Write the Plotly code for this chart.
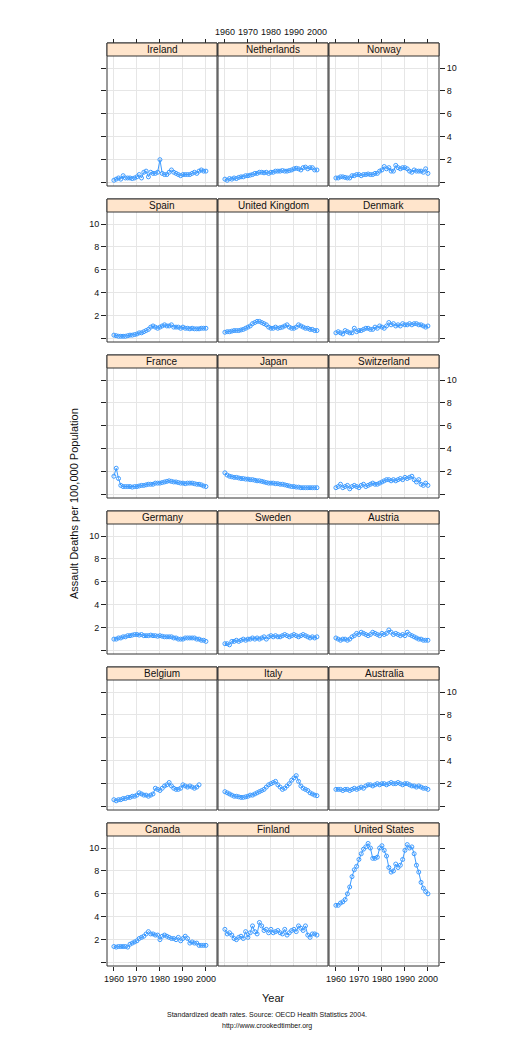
import plotly.graph_objects as go

years = list(range(1960, 2001))
countries = ["Ireland","Netherlands","Norway","Spain","United Kingdom","Denmark",
             "France","Japan","Switzerland","Germany","Sweden","Austria",
             "Belgium","Italy","Australia","Canada","Finland","United States"]
ireland = [0.2,0.3,0.4,0.3,0.6,0.4,0.4,0.4,0.35,0.4,0.5,0.7,0.4,0.9,1.0,0.5,0.9,0.8,0.8,0.9,2.0,0.8,0.7,0.7,0.9,1.1,0.9,0.8,0.7,0.6,0.7,0.7,0.7,0.7,0.8,0.9,0.8,1.0,1.1,1.0,1.0]
netherlands = [0.3,0.2,0.35,0.3,0.4,0.35,0.45,0.5,0.5,0.6,0.6,0.65,0.7,0.8,0.8,0.9,0.9,0.85,0.9,0.8,0.9,0.9,1.0,1.0,1.0,1.05,1.0,1.0,1.05,1.1,1.2,1.25,1.2,1.1,1.3,1.35,1.2,1.3,1.3,1.1,1.1]
norway = [0.4,0.4,0.5,0.5,0.45,0.4,0.4,0.6,0.6,0.7,0.7,0.6,0.7,0.7,0.75,0.7,0.7,0.8,0.8,1.0,1.1,1.4,1.2,1.3,1.0,1.0,1.5,1.3,1.2,1.3,1.3,1.2,1.0,0.9,1.1,1.0,1.0,1.0,0.9,1.2,0.8]
spain = [0.3,0.25,0.2,0.2,0.2,0.2,0.25,0.3,0.3,0.35,0.4,0.5,0.5,0.6,0.7,0.8,1.0,1.1,1.0,0.9,1.0,1.1,1.2,1.1,1.1,1.2,1.0,1.0,1.0,0.9,1.0,0.9,0.9,0.85,0.9,0.85,0.85,0.85,0.9,0.9,0.9]
uk = [0.55,0.6,0.6,0.65,0.7,0.7,0.7,0.75,0.8,0.9,1.0,1.1,1.3,1.4,1.5,1.5,1.4,1.3,1.2,1.0,0.9,0.9,1.0,0.9,0.95,1.0,1.1,1.2,1.0,0.9,0.9,1.0,1.2,1.1,1.0,0.9,0.9,0.8,0.8,0.7,0.7]
denmark = [0.5,0.6,0.5,0.4,0.7,0.6,0.5,0.5,0.9,0.6,0.7,0.7,0.8,0.9,0.9,0.8,0.8,1.0,0.9,1.1,1.0,0.9,1.1,1.4,1.2,1.3,1.1,1.2,1.1,1.3,1.2,1.2,1.3,1.2,1.3,1.3,1.2,1.2,1.1,1.0,1.1]
france = [1.6,2.3,1.4,0.8,0.7,0.7,0.7,0.7,0.65,0.7,0.7,0.75,0.8,0.8,0.85,0.9,0.9,0.9,1.0,1.0,1.0,1.05,1.1,1.15,1.2,1.15,1.1,1.1,1.05,1.0,1.0,0.95,1.0,1.0,1.0,0.95,0.9,0.9,0.85,0.75,0.7]
japan = [1.9,1.7,1.6,1.55,1.5,1.5,1.45,1.4,1.4,1.35,1.35,1.3,1.3,1.25,1.2,1.2,1.15,1.1,1.05,1.0,1.0,1.0,0.95,0.95,0.9,0.9,0.85,0.8,0.75,0.7,0.7,0.65,0.65,0.6,0.6,0.6,0.6,0.6,0.6,0.6,0.6]
switzerland = [0.6,0.7,0.9,0.6,0.7,0.8,0.5,0.7,0.8,0.7,0.6,0.8,0.9,0.7,0.8,0.9,1.0,0.9,0.9,1.0,1.1,1.2,1.3,1.3,1.2,1.3,1.2,1.3,1.4,1.3,1.5,1.4,1.5,1.6,1.3,1.1,1.3,0.9,0.8,1.0,0.8]
germany = [1.0,1.0,1.1,1.1,1.2,1.2,1.3,1.3,1.35,1.4,1.4,1.35,1.4,1.3,1.3,1.3,1.35,1.3,1.3,1.25,1.3,1.25,1.2,1.2,1.2,1.2,1.1,1.1,1.0,1.0,1.0,1.1,1.1,1.1,1.1,1.1,1.0,1.0,0.9,0.9,0.8]
sweden = [0.6,0.6,0.5,0.8,0.8,0.9,0.8,0.9,1.0,0.9,1.0,1.0,1.1,1.0,1.1,1.0,1.1,1.2,1.0,1.2,1.3,1.2,1.3,1.2,1.2,1.3,1.4,1.3,1.2,1.3,1.4,1.3,1.2,1.3,1.4,1.3,1.2,1.1,1.2,1.1,1.2]
austria = [1.1,1.0,0.9,1.0,1.0,0.9,1.0,1.2,1.3,1.5,1.4,1.6,1.5,1.4,1.3,1.4,1.6,1.5,1.4,1.3,1.5,1.4,1.5,1.8,1.6,1.4,1.5,1.4,1.3,1.4,1.3,1.6,1.4,1.3,1.2,1.1,1.0,1.0,0.9,0.9,0.9]
belgium = [0.6,0.5,0.6,0.6,0.7,0.7,0.8,0.8,0.9,0.9,1.0,1.2,1.1,1.0,1.0,0.9,1.0,1.1,1.6,1.5,1.4,1.6,1.8,1.9,2.1,1.8,1.6,1.5,1.5,1.6,1.9,1.8,1.7,1.8,1.7,1.6,1.7,1.9,None,None,None]
italy = [1.3,1.2,1.1,1.0,0.9,0.9,0.85,0.8,0.8,0.85,0.9,1.0,1.0,1.1,1.2,1.3,1.4,1.5,1.7,1.9,2.0,2.1,2.2,1.9,1.7,1.5,1.6,1.8,2.0,2.3,2.5,2.7,2.2,1.8,1.6,1.5,1.4,1.2,1.1,1.0,0.95]
australia = [1.5,1.5,1.5,1.4,1.5,1.5,1.4,1.5,1.6,1.5,1.6,1.7,1.6,1.8,1.9,1.9,1.8,1.9,2.0,1.9,2.0,2.0,1.9,2.0,2.1,2.0,2.0,2.1,2.0,1.9,2.0,2.0,1.9,1.8,1.8,1.7,1.8,1.7,1.6,1.6,1.5]
canada = [1.4,1.35,1.4,1.4,1.4,1.4,1.35,1.6,1.7,1.8,1.9,2.1,2.2,2.3,2.5,2.7,2.5,2.5,2.4,2.4,2.0,2.3,2.4,2.3,2.2,2.1,2.1,2.0,2.2,1.9,2.1,2.3,2.1,1.7,1.8,1.7,1.7,1.5,1.5,1.5,1.5]
finland = [2.9,2.5,2.6,2.4,2.1,2.0,2.2,2.3,2.1,2.7,2.2,2.6,3.2,2.7,2.5,3.5,3.2,2.8,2.9,2.6,2.9,2.6,2.7,2.8,2.6,2.5,2.9,2.4,2.6,2.8,2.9,2.7,3.2,3.0,2.8,3.2,2.4,2.2,2.5,2.5,2.4]
usa = [5.0,5.0,5.2,5.3,5.5,6.0,6.6,7.5,8.1,8.4,9.0,9.5,9.9,10.1,10.4,10.0,9.1,9.1,9.2,10.0,10.2,9.8,9.3,8.3,7.9,8.0,8.6,8.3,8.5,9.0,9.8,10.3,10.0,10.1,9.5,8.5,7.9,7.0,6.5,6.2,6.0]
series = [ireland,netherlands,norway,spain,uk,denmark,france,japan,switzerland,
          germany,sweden,austria,belgium,italy,australia,canada,finland,usa]
y_ticks = [0, 2, 4, 6, 8, 10]
y_labels = ["", "2", "4", "6", "8", "10"]
x_ticks = [1960, 1970, 1980, 1990, 2000]

W, H = 518, 1037
colx = [(99, 209), (210, 320), (321, 431)]
FONT = "Liberation Sans, Arial, sans-serif"
TF = dict(size=9, family=FONT, color="#111")
fig = go.Figure()
shapes, annos = [], []
for i, (name, vals) in enumerate(zip(countries, series)):
    r, c = divmod(i, 3)
    x0, x1 = colx[c]
    stop = 35 + r * 156
    ptop, pbot = stop + 13, stop + 143
    k = "" if i == 0 else str(i + 1)
    fig.add_trace(go.Scatter(x=years, y=vals, mode="lines+markers", xaxis="x" + k, yaxis="y" + k,
                             line=dict(color="#3d9bff", width=1),
                             marker=dict(symbol="circle-open", size=4, color="#3d9bff", line=dict(width=1)),
                             showlegend=False, connectgaps=False))
    xa = dict(domain=[x0 / W, x1 / W], range=[1957, 2004.8], anchor="y" + k,
              tickvals=x_ticks, showgrid=True, gridcolor="#e6e6e6", zeroline=False,
              showline=False, ticks="", showticklabels=False, automargin=False)
    if r == 5 and c != 1:
        xa.update(showticklabels=True, ticks="outside", ticklen=4, tickcolor="#222", tickfont=TF)
    elif r == 0:
        xa.update(side="top", anchor="free", position=1 - stop / H, ticks="outside", ticklen=4,
                  tickcolor="#222", showticklabels=(c == 1), tickfont=TF)
    fig.layout["xaxis" + k] = xa
    ya = dict(domain=[1 - pbot / H, 1 - ptop / H], range=[-0.3, 11.05], anchor="x" + k,
              tickvals=y_ticks, ticktext=y_labels, showgrid=True, gridcolor="#e6e6e6",
              zeroline=False, showline=False, ticks="", showticklabels=False, automargin=False)
    if c in (0, 2):
        ya.update(ticks="outside", ticklen=5, tickcolor="#222", side="left" if c == 0 else "right",
                  showticklabels=(c == 0 and r % 2 == 1) or (c == 2 and r % 2 == 0), tickfont=TF)
    fig.layout["yaxis" + k] = ya
    shapes.append(dict(type="rect", xref="paper", yref="paper", x0=x0 / W, x1=x1 / W,
                       y0=1 - pbot / H, y1=1 - stop / H, line=dict(color="#333", width=1)))
    shapes.append(dict(type="rect", xref="paper", yref="paper", x0=x0 / W, x1=x1 / W,
                       y0=1 - ptop / H, y1=1 - stop / H, fillcolor="#ffe5cc",
                       line=dict(color="#333", width=1)))
    annos.append(dict(text=name, x=(x0 + x1) / 2 / W, y=1 - (stop + 6.5) / H, xref="paper", yref="paper",
                      xanchor="center", yanchor="middle", showarrow=False,
                      font=dict(size=10, family=FONT, color="#111")))

annos += [
    dict(text="Year", x=265 / W, y=1 - 990 / H, xref="paper", yref="paper", showarrow=False,
         xanchor="center", yanchor="middle", font=dict(size=11, family=FONT, color="#111")),
    dict(text="Assault Deaths per 100,000 Population", x=66 / W, y=1 - 496 / H, xref="paper",
         yref="paper", showarrow=False, textangle=-90, xanchor="center", yanchor="middle",
         font=dict(size=11, family=FONT, color="#111")),
    dict(text="Standardized death rates. Source: OECD Health Statistics 2004.", x=259 / W,
         y=1 - 1006 / H, xref="paper", yref="paper", showarrow=False, xanchor="center",
         yanchor="middle", font=dict(size=7, family=FONT, color="#111")),
    dict(text="http://www.crookedtimber.org", x=259 / W, y=1 - 1018 / H, xref="paper",
         yref="paper", showarrow=False, xanchor="center", yanchor="middle",
         font=dict(size=7, family=FONT, color="#111")),
]
fig.update_layout(width=W, height=H, margin=dict(l=0, r=0, t=0, b=0), plot_bgcolor="white",
                  paper_bgcolor="white", shapes=shapes, annotations=annos)
fig.write_html("out.html")
